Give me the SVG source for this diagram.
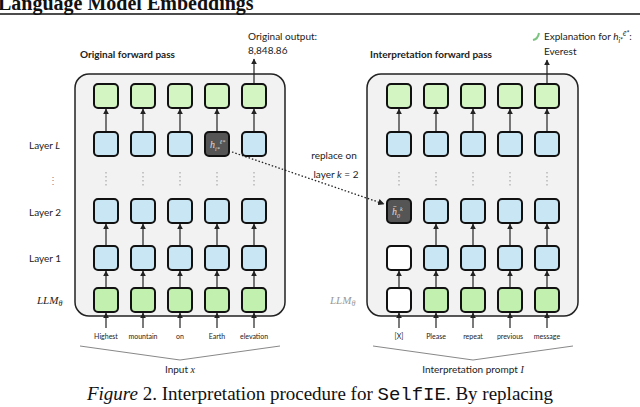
<svg xmlns="http://www.w3.org/2000/svg" width="640" height="407" viewBox="0 0 640 407">
<defs>
<marker id="ah" viewBox="0 0 10 10" refX="9" refY="5" markerWidth="5" markerHeight="5" orient="auto"><path d="M0,0 L10,5 L0,10 z" fill="#222"/></marker>
<style>
.panel{fill:#f2f2f2;stroke:#222;stroke-width:1.5}
.g{fill:#d3f5c2;stroke:#111;stroke-width:2}
.g2{fill:#c2f0ae;stroke:#111;stroke-width:2}
.b{fill:#c9e6f4;stroke:#111;stroke-width:2}
.w{fill:#fff;stroke:#111;stroke-width:2}
.d{fill:#555;stroke:#111;stroke-width:2}
.t{font-family:Lato,"Liberation Sans",sans-serif;fill:#222}
.a{stroke:#222;stroke-width:1.2;marker-end:url(#ah);fill:none}
.dots{stroke:#999;stroke-width:1;stroke-dasharray:1.5 2.5}
</style>
</defs>
<text x="-2" y="10" font-family="Liberation Serif,serif" font-weight="bold" font-size="20" fill="#111">Language Model Embeddings</text>
<line x1="0" y1="14" x2="640" y2="14" stroke="#111" stroke-width="1.5"/>
<g id="panels">
<rect class="panel" x="75" y="74" width="210" height="242" rx="14"/>
<rect class="panel" x="367" y="74" width="211" height="242" rx="14"/>
</g>
<g id="labels" class="t" font-size="10">
<text x="80" y="58" font-weight="bold">Original forward pass</text>
<text x="248" y="40">Original output:</text>
<text x="248" y="54">8,848.86</text>
<text x="370" y="58" font-weight="bold">Interpretation forward pass</text>
<text x="544" y="40">Explanation for <tspan font-style="italic">h</tspan><tspan font-size="7" dy="3" font-style="italic">i*</tspan><tspan font-size="7" dy="-7" font-style="italic">ℓ*</tspan><tspan dy="4">:</tspan></text>
<text x="544" y="55">Everest</text>
<path d="M533,40 q5,-1 6,-7" stroke="#7bc47f" stroke-width="2" fill="none"/>
<text x="29" y="149">Layer <tspan font-style="italic">L</tspan></text>
<text x="48" y="184" fill="#888">⋮</text>
<text x="29" y="216">Layer 2</text>
<text x="29" y="262">Layer 1</text>
<text x="37" y="304" font-style="italic" font-family="Liberation Serif,serif" font-size="11">LLM<tspan font-size="8" dy="2">θ</tspan></text>
<text x="330" y="304" font-style="italic" font-family="Liberation Serif,serif" font-size="11" fill="#999">LLM<tspan font-size="8" dy="2">θ</tspan></text>
<text x="334" y="159" text-anchor="middle">replace on</text>
<text x="336" y="178" text-anchor="middle">layer <tspan font-style="italic">k</tspan> = 2</text>
<g font-size="7" text-anchor="middle">
<text x="106" y="339">Highest</text><text x="143" y="339">mountain</text><text x="180" y="339">on</text><text x="217" y="339">Earth</text><text x="254" y="339">elevation</text>
<text x="399" y="339">[X]</text><text x="436" y="339">Please</text><text x="473" y="339">repeat</text><text x="510" y="339">previous</text><text x="547" y="339">message</text>
</g>
<text x="180" y="373" text-anchor="middle">Input <tspan font-style="italic" font-family="Liberation Serif,serif">x</tspan></text>
<text x="473" y="373" text-anchor="middle">Interpretation prompt <tspan font-style="italic" font-family="Liberation Serif,serif">I</tspan></text>
<polyline points="80,346 180,360 280,346" fill="none" stroke="#888" stroke-width="1"/>
<polyline points="373,346 473,360 573,346" fill="none" stroke="#888" stroke-width="1"/>
</g>
<g id="connectors">
<path class="a" d="M254,84 V59"/>
<path class="a" d="M547,84 V60"/>
<g id="lc">
<path class="a" d="M106,132 V109"/><path class="a" d="M143,132 V109"/><path class="a" d="M180,132 V109"/><path class="a" d="M217,132 V109"/><path class="a" d="M254,132 V109"/>
<path class="a" d="M106,246 V224"/><path class="a" d="M143,246 V224"/><path class="a" d="M180,246 V224"/><path class="a" d="M217,246 V224"/><path class="a" d="M254,246 V224"/>
<path class="a" d="M106,288 V271"/><path class="a" d="M143,288 V271"/><path class="a" d="M180,288 V271"/><path class="a" d="M217,288 V271"/><path class="a" d="M254,288 V271"/>
<path class="a" d="M106,328 V313"/><path class="a" d="M143,328 V313"/><path class="a" d="M180,328 V313"/><path class="a" d="M217,328 V313"/><path class="a" d="M254,328 V313"/>
</g>
<g id="rc">
<path class="a" d="M399,132 V109"/><path class="a" d="M436,132 V109"/><path class="a" d="M473,132 V109"/><path class="a" d="M510,132 V109"/><path class="a" d="M547,132 V109"/>
<path class="a" d="M436,246 V224"/><path class="a" d="M473,246 V224"/><path class="a" d="M510,246 V224"/><path class="a" d="M547,246 V224"/>
<path class="a" d="M399,288 V271"/><path class="a" d="M436,288 V271"/><path class="a" d="M473,288 V271"/><path class="a" d="M510,288 V271"/><path class="a" d="M547,288 V271"/>
<path class="a" d="M399,328 V313"/><path class="a" d="M436,328 V313"/><path class="a" d="M473,328 V313"/><path class="a" d="M510,328 V313"/><path class="a" d="M547,328 V313"/>
</g>
<path d="M232,152 L384,204" stroke="#222" stroke-width="1.3" stroke-dasharray="1.5 2" fill="none" marker-end="url(#ah)"/>
<g class="dots">
<path d="M106,172 V188 M143,172 V188 M180,172 V188 M217,172 V188 M254,172 V188"/>
<path d="M399,172 V188 M436,172 V188 M473,172 V188 M510,172 V188 M547,172 V188"/>
</g>
</g>
<g id="nodes-left">
<rect class="g" x="94" y="84" width="24" height="24" rx="4"/><rect class="g" x="131" y="84" width="24" height="24" rx="4"/><rect class="g" x="168" y="84" width="24" height="24" rx="4"/><rect class="g" x="205" y="84" width="24" height="24" rx="4"/><rect class="g" x="242" y="84" width="24" height="24" rx="4"/>
<rect class="b" x="94" y="132" width="24" height="24" rx="4"/><rect class="b" x="131" y="132" width="24" height="24" rx="4"/><rect class="b" x="168" y="132" width="24" height="24" rx="4"/><rect class="d" x="205" y="132" width="24" height="24" rx="4"/><rect class="b" x="242" y="132" width="24" height="24" rx="4"/>
<rect class="b" x="94" y="199" width="24" height="24" rx="4"/><rect class="b" x="131" y="199" width="24" height="24" rx="4"/><rect class="b" x="168" y="199" width="24" height="24" rx="4"/><rect class="b" x="205" y="199" width="24" height="24" rx="4"/><rect class="b" x="242" y="199" width="24" height="24" rx="4"/>
<rect class="b" x="94" y="246" width="24" height="24" rx="4"/><rect class="b" x="131" y="246" width="24" height="24" rx="4"/><rect class="b" x="168" y="246" width="24" height="24" rx="4"/><rect class="b" x="205" y="246" width="24" height="24" rx="4"/><rect class="b" x="242" y="246" width="24" height="24" rx="4"/>
<rect class="g2" x="94" y="288" width="24" height="24" rx="4"/><rect class="g2" x="131" y="288" width="24" height="24" rx="4"/><rect class="g2" x="168" y="288" width="24" height="24" rx="4"/><rect class="g2" x="205" y="288" width="24" height="24" rx="4"/><rect class="g2" x="242" y="288" width="24" height="24" rx="4"/>
<text x="210" y="148" font-family="Liberation Serif,serif" font-style="italic" font-size="10" fill="#ddd">h<tspan font-size="6" dy="3">i*</tspan><tspan font-size="6" dy="-7">ℓ*</tspan></text>
</g>
<g id="nodes-right">
<rect class="g" x="387" y="84" width="24" height="24" rx="4"/><rect class="g" x="424" y="84" width="24" height="24" rx="4"/><rect class="g" x="461" y="84" width="24" height="24" rx="4"/><rect class="g" x="498" y="84" width="24" height="24" rx="4"/><rect class="g" x="535" y="84" width="24" height="24" rx="4"/>
<rect class="b" x="387" y="132" width="24" height="24" rx="4"/><rect class="b" x="424" y="132" width="24" height="24" rx="4"/><rect class="b" x="461" y="132" width="24" height="24" rx="4"/><rect class="b" x="498" y="132" width="24" height="24" rx="4"/><rect class="b" x="535" y="132" width="24" height="24" rx="4"/>
<rect class="d" x="387" y="199" width="24" height="24" rx="4"/><rect class="b" x="424" y="199" width="24" height="24" rx="4"/><rect class="b" x="461" y="199" width="24" height="24" rx="4"/><rect class="b" x="498" y="199" width="24" height="24" rx="4"/><rect class="b" x="535" y="199" width="24" height="24" rx="4"/>
<rect class="w" x="387" y="246" width="24" height="24" rx="4"/><rect class="b" x="424" y="246" width="24" height="24" rx="4"/><rect class="b" x="461" y="246" width="24" height="24" rx="4"/><rect class="b" x="498" y="246" width="24" height="24" rx="4"/><rect class="b" x="535" y="246" width="24" height="24" rx="4"/>
<rect class="w" x="387" y="288" width="24" height="24" rx="4"/><rect class="g2" x="424" y="288" width="24" height="24" rx="4"/><rect class="g2" x="461" y="288" width="24" height="24" rx="4"/><rect class="g2" x="498" y="288" width="24" height="24" rx="4"/><rect class="g2" x="535" y="288" width="24" height="24" rx="4"/>
<text x="392" y="215" font-family="Liberation Serif,serif" font-style="italic" font-size="10" fill="#ddd">h̄<tspan font-size="6" dy="3">0</tspan><tspan font-size="6" dy="-7">k</tspan></text>
</g>
<text x="320" y="400" text-anchor="middle" font-family="Liberation Serif,serif" font-size="19" fill="#111"><tspan font-style="italic">Figure</tspan> 2. Interpretation procedure for <tspan font-family="Liberation Mono,monospace">SelfIE</tspan>. By replacing</text>
</svg>
